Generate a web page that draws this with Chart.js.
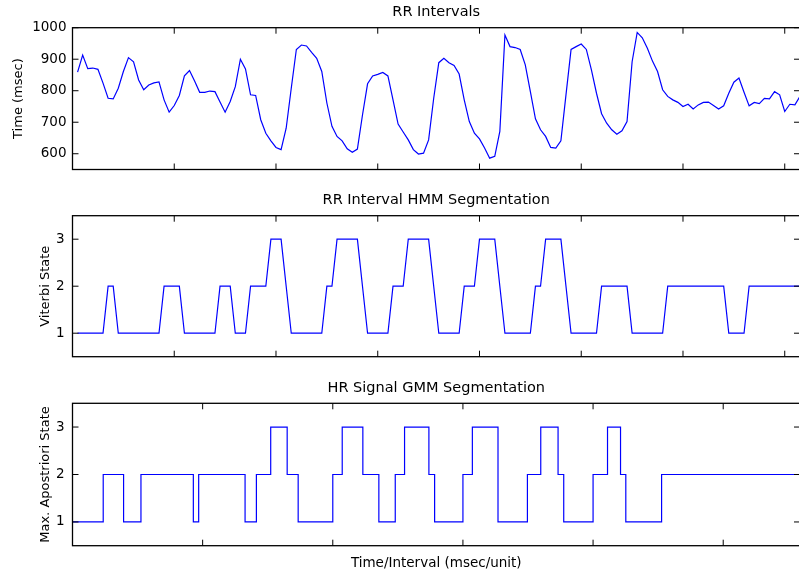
<!DOCTYPE html>
<html><head><meta charset="utf-8">
<script src="https://cdn.jsdelivr.net/npm/chart.js@4.4.1/dist/chart.umd.min.js"></script>
<style>
html,body{margin:0;padding:0;background:#fff;overflow:hidden;width:799px;height:577px;}
canvas{position:absolute;left:0;top:0;}
</style></head><body>
<canvas id="c1" width="800" height="577"></canvas>
<canvas id="c2" width="800" height="577"></canvas>
<canvas id="c3" width="800" height="577"></canvas>
<script>
// RR intervals (msec), beats 1..143
const rrValues = [
 859,913,870,872,868,824,776,774,808,861,
 905,892,834,803,818,825,828,771,732,753,
 785,847,864,831,795,795,799,797,764,732,
 766,813,900,869,787,785,708,665,641,620,
 613,681,808,931,945,942,922,903,861,761,
 687,655,641,616,605,615,723,822,847,852,
 858,847,771,694,669,644,613,599,602,644,
 776,889,903,889,880,853,771,702,665,647,
 618,586,592,671,977,940,937,931,882,797,
 711,676,655,620,618,641,787,931,940,948,
 931,866,792,727,697,676,662,673,702,892,
 985,968,935,894,861,803,782,771,763,750,
 757,742,755,763,764,753,742,752,792,827,
 840,795,752,763,759,776,774,797,787,734,
 757,755,782
];
// Viterbi state per beat
const hmmStates = [
 1,1,1,1,1,1, 2,2, 1,1,1,1,1,1,1,1,1, 2,2,2,2, 1,1,1,1,1,1,1, 2,2,2, 1,1,1,
 2,2,2,2, 3,3,3, 2, 1,1,1,1,1,1,1, 2,2, 3,3,3,3,3, 2, 1,1,1,1,1, 2,2,2,
 3,3,3,3,3, 2, 1,1,1,1,1, 2,2,2, 3,3,3,3, 2, 1,1,1,1,1,1, 2,2, 3,3,3,3, 2,
 1,1,1,1,1,1, 2,2,2,2,2,2, 1,1,1,1,1,1,1, 2,2,2,2,2,2,2,2,2,2,2,2,
 1,1,1,1, 2,2,2,2,2,2,2,2,2,2,2
];
// GMM state change times (msec) and new state
const gmmTimes = [0,4720,7850,10520,18570,19390,26520,28260,30460,32990,34680,
  40000,41450,44620,47080,49600,51030,54770,55650,60000,61450,65390,69910,71960,
  74620,75490,80000,82220,84220,85030,90530,111800];
const gmmStates = [1,2,1,2,1,2,1,2,3,2,1,
  2,3,2,1,2,3,2,1,2,3,1,2,3,
  2,1,2,3,2,1,2,2];

const rrTicks = [600,700,800,900,1000];
const stateTicks = [1,2,3];
const beatTicks = [0,20,40,60,80,100,120,140];
const timeTicks = [0,20000,40000,60000,80000,100000];
const panelTitles = ['RR Intervals','RR Interval HMM Segmentation','HR Signal GMM Segmentation'];
const yTitles = ['Time (msec)','Viterbi State','Max. Apostriori State'];
const xTitle = 'Time/Interval (msec/unit)';

Chart.defaults.font.family = "'DejaVu Sans', sans-serif";
Chart.defaults.color = '#000';

const frame = {
  id: 'frame',
  afterDatasetsDraw(chart) {
    const a = chart.chartArea, ctx = chart.ctx;
    const xs = chart.scales.x, ys = chart.scales.y;
    const L = 6;
    ctx.save();
    ctx.strokeStyle = '#000';
    ctx.lineWidth = 1;
    ctx.beginPath();
    xs.ticks.forEach(t => {
      const px = xs.getPixelForValue(t.value);
      ctx.moveTo(px, a.bottom); ctx.lineTo(px, a.bottom - L);
      ctx.moveTo(px, a.top); ctx.lineTo(px, a.top + L);
    });
    ys.ticks.forEach(t => {
      const py = ys.getPixelForValue(t.value);
      ctx.moveTo(a.left, py); ctx.lineTo(a.left + L, py);
      ctx.moveTo(a.right, py); ctx.lineTo(a.right - L, py);
    });
    ctx.stroke();
    ctx.lineWidth = 1.3;
    ctx.strokeRect(a.left, a.top, a.right - a.left, a.bottom - a.top);
    ctx.restore();
  }
};

function makePanel(id, o) {
  return new Chart(document.getElementById(id), {
    type: 'line',
    data: { datasets: [{
      data: o.data,
      borderColor: '#0000ff',
      borderWidth: o.lw,
      pointRadius: 0,
      tension: 0,
      stepped: o.stepped || false,
      fill: false
    }]},
    options: {
      responsive: false,
      animation: false,
      devicePixelRatio: 1,
      layout: { padding: { top: o.padTop, left: 0, right: 0, bottom: 0 } },
      plugins: {
        legend: { display: false },
        tooltip: { enabled: false },
        title: {
          display: true, text: o.title, fullSize: false, color: '#000',
          font: { size: 14.5, weight: 'normal' },
          padding: { top: 3.5, bottom: 6.8 }
        }
      },
      scales: {
        x: {
          type: 'linear', min: o.xMin, max: o.xMax,
          afterBuildTicks: s => { s.ticks = o.xTicks.map(v => ({ value: v })); },
          afterFit: s => { s.height = 577 - o.bottom; },
          ticks: { display: false },
          grid: { display: false, drawTicks: false },
          border: { display: false },
          title: o.xTitle ? { display: true, text: o.xTitle, color: '#000',
                    font: { size: 13.5 }, padding: { top: 0, bottom: 5 } } : { display: false }
        },
        y: {
          type: 'linear', min: o.yMin, max: o.yMax,
          afterBuildTicks: s => { s.ticks = o.yTicks.map(v => ({ value: v })); },
          afterFit: s => { s.width = 72.5; },
          ticks: { padding: o.tickPad, font: { size: 13.5 }, color: '#000',
                   callback: v => String(v) },
          grid: { display: false, drawTicks: false },
          border: { display: false },
          title: { display: true, text: o.yTitle, color: '#000',
                   font: { size: 13 }, padding: { top: o.yTitlePad, bottom: 0 } }
        }
      }
    },
    plugins: [frame]
  });
}

const rrData = rrValues.map((v, k) => ({ x: k + 1, y: v }));
const hmmData = hmmStates.map((v, k) => ({ x: k + 1, y: v }));
const gmmData = gmmTimes.map((t, k) => ({ x: t, y: gmmStates[k] }));

makePanel('c1', { data: rrData, lw: 1.2, padTop: 0, bottom: 169.5, title: panelTitles[0],
  xMin: 0, xMax: 143, xTicks: beatTicks, yMin: 550, yMax: 1000, yTicks: rrTicks,
  yTitle: yTitles[0], yTitlePad: 11, tickPad: 6 });
makePanel('c2', { data: hmmData, lw: 1.2, padTop: 188, bottom: 356.7, title: panelTitles[1],
  xMin: 0, xMax: 143, xTicks: beatTicks, yMin: 0.5, yMax: 3.5, yTicks: stateTicks,
  yTitle: yTitles[1], yTitlePad: 38, tickPad: 8 });
makePanel('c3', { data: gmmData, lw: 1.2, padTop: 375.6, bottom: 545.7, title: panelTitles[2],
  xMin: 0, xMax: 111800, xTicks: timeTicks, yMin: 0.5, yMax: 3.5, yTicks: stateTicks,
  yTitle: yTitles[2], yTitlePad: 38, tickPad: 8, stepped: true, xTitle: xTitle });
</script>
</body></html>
